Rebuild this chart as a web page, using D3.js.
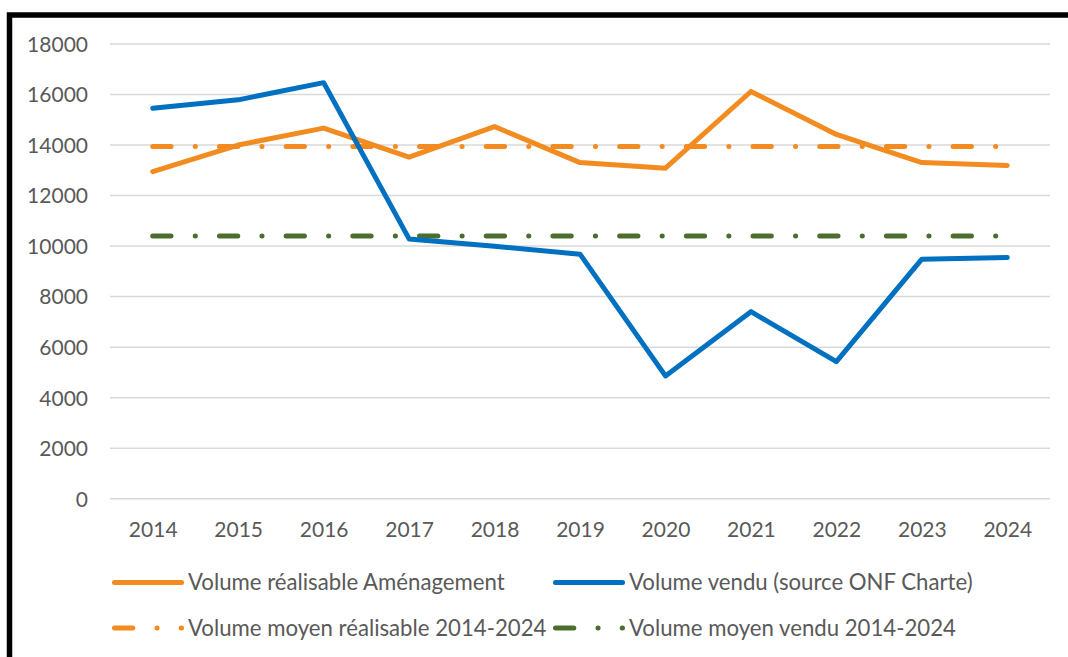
<!DOCTYPE html>
<html>
<head>
<meta charset="utf-8">
<script src="https://cdn.jsdelivr.net/npm/d3@7"></script>
<style>
  body { margin: 0; background: #fff; }
  svg text { font-family: Lato, "Liberation Sans", sans-serif; fill: #595959; }
</style>
</head>
<body>
<svg id="chart" width="1068" height="657"></svg>
<script>
// values
const years = ["2014", "2015", "2016", "2017", "2018", "2019", "2020", "2021", "2022", "2023", "2024"];
const volRealisable = [12950, 14000, 14670, 13520, 14730, 13305, 13085, 16120, 14420, 13305, 13190];
const volVendu = [15460, 15790, 16470, 10285, 9990, 9680, 4860, 7405, 5425, 9480, 9545];
const moyRealisable = [13940, 13940, 13940, 13940, 13940, 13940, 13940, 13940, 13940, 13940, 13940];
const moyVendu = [10400, 10400, 10400, 10400, 10400, 10400, 10400, 10400, 10400, 10400, 10400];
const yTicks = [0, 2000, 4000, 6000, 8000, 10000, 12000, 14000, 16000, 18000];

const series = [
  {name: "Volume réalisable Aménagement", values: volRealisable, color: "#F28B20", dash: null},
  {name: "Volume vendu (source ONF Charte)", values: volVendu, color: "#0070C0", dash: null},
  {name: "Volume moyen réalisable 2014-2024", values: moyRealisable, color: "#F28B20", dash: "18.3 24.2 0.1 24.1"},
  {name: "Volume moyen vendu 2014-2024", values: moyVendu, color: "#4B6E2F", dash: "18.3 24.2 0.1 24.1"}
];

const svg = d3.select("#chart");

// black frame (right and bottom edges run off the picture)
svg.append("rect")
  .attr("x", 9.5).attr("y", 15)
  .attr("width", 1100).attr("height", 700)
  .attr("fill", "none").attr("stroke", "#000").attr("stroke-width", 5.5);

const x = d3.scalePoint().domain(years).range([110, 1050]).padding(0.5);
const y = d3.scaleLinear().domain([0, 18000]).range([498.7, 44]);

// gridlines
svg.append("g")
  .selectAll("line")
  .data(yTicks)
  .join("line")
  .attr("x1", 110).attr("x2", 1050)
  .attr("y1", d => y(d)).attr("y2", d => y(d))
  .attr("stroke", "#d9d9d9").attr("stroke-width", 1.5);

// y axis labels
const yAxis = d3.axisLeft(y).tickValues(yTicks).tickSize(0).tickPadding(0).tickFormat(d3.format("d"));
const gy = svg.append("g").attr("transform", "translate(88,0)").call(yAxis);
gy.select(".domain").remove();
gy.selectAll("text").attr("font-size", 21).attr("fill", "#595959").attr("dy", "0.35em")
  .style("font-family", "Lato, sans-serif");

// x axis labels
const xAxis = d3.axisBottom(x).tickSize(0).tickPadding(0);
const gx = svg.append("g").attr("transform", "translate(0,530)").call(xAxis);
gx.select(".domain").remove();
gx.selectAll("text").attr("font-size", 21).attr("fill", "#595959").attr("dy", "0.35em")
  .style("font-family", "Lato, sans-serif");

// lines
const line = d3.line()
  .x((d, i) => x(years[i]))
  .y(d => y(d));

// averages drawn first, then the measured series on top
const drawOrder = [series[2], series[3], series[0], series[1]];
svg.append("g")
  .selectAll("path")
  .data(drawOrder)
  .join("path")
  .attr("d", d => line(d.values))
  .attr("fill", "none")
  .attr("stroke", d => d.color)
  .attr("stroke-width", 5)
  .attr("stroke-linecap", "round")
  .attr("stroke-linejoin", "round")
  .attr("stroke-dasharray", d => d.dash);

// legend
const legendPos = [
  {x: 112, y: 582.5},
  {x: 553, y: 582.5},
  {x: 112, y: 628},
  {x: 553, y: 628}
];
const leg = svg.append("g")
  .selectAll("g")
  .data(series)
  .join("g")
  .attr("transform", (d, i) => `translate(${legendPos[i].x},${legendPos[i].y})`);

leg.append("line")
  .attr("x1", 2.5).attr("x2", 69.5)
  .attr("stroke", d => d.color)
  .attr("stroke-width", 5)
  .attr("stroke-linecap", "round")
  .attr("stroke-dasharray", d => d.dash);

leg.append("text")
  .attr("x", 76)
  .attr("dy", "0.35em")
  .attr("font-size", 22.2)
  .text(d => d.name);
</script>
</body>
</html>
